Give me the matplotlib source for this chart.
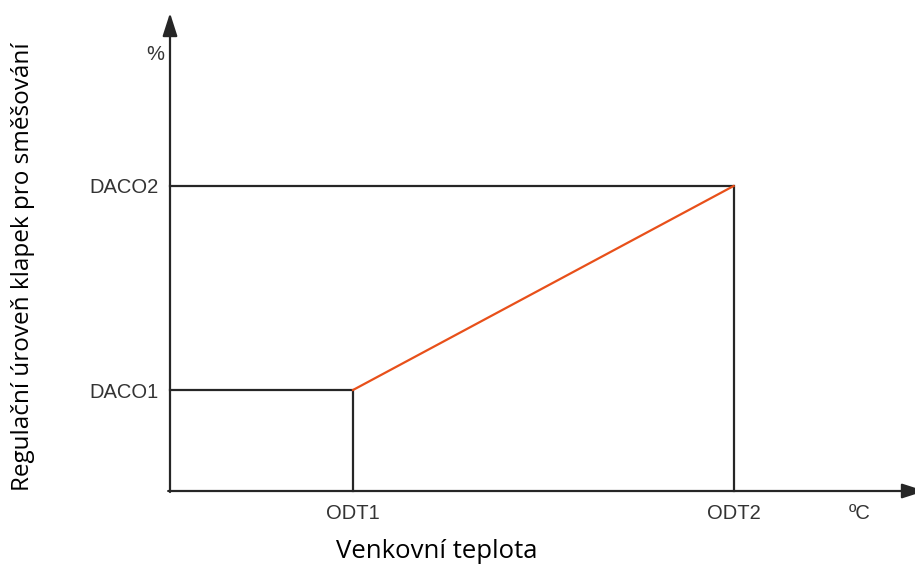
import matplotlib
matplotlib.use("Agg")
import matplotlib.pyplot as plt
from matplotlib.transforms import offset_copy, blended_transform_factory

# Data (abstract units)
odt_labels = ["ODT1", "ODT2"]
odt_x = [1.0, 3.08]
daco_labels = ["DACO1", "DACO2"]
daco_y = [1.0, 3.02]
x_unit_label = "ºC"
x_unit_pos = 3.77
y_unit_label = "%"
xlabel = "Venkovní teplota"
ylabel = "Regulační úroveň klapek pro směšování"

W, H, DPI = 915, 565, 100
fig = plt.figure(figsize=(W / DPI, H / DPI), dpi=DPI)
x0, y0 = 170, 491          # origin in pixels (from top)
xpx_per = 183.0
ypx_per = 101.0
ax = fig.add_axes([x0 / W, (H - y0) / H, (W - x0) / W, (y0 - 0) / H])
ax.set_xlim(0, (W - x0) / xpx_per)
ax.set_ylim(0, y0 / ypx_per)
for s in ax.spines.values():
    s.set_visible(False)

dark = "#262626"
orange = "#e8501a"
lw = 1.6

# axes with arrows
ytop = (y0 - 13) / ypx_per
xright = (W - x0 + 10) / xpx_per
ax.annotate("", xy=(0, ytop), xytext=(0, -0.01), xycoords="data",
            arrowprops=dict(arrowstyle="-|>,head_length=1.4,head_width=0.45",
                            color=dark, lw=lw, shrinkA=0, shrinkB=0),
            annotation_clip=False)
ax.annotate("", xy=(xright, 0), xytext=(-0.01, 0), xycoords="data",
            arrowprops=dict(arrowstyle="-|>,head_length=1.4,head_width=0.45",
                            color=dark, lw=lw, shrinkA=0, shrinkB=0),
            annotation_clip=False)

# guide lines
ax.plot([0, odt_x[0], odt_x[0]], [daco_y[0], daco_y[0], 0], color=dark, lw=lw,
        solid_joinstyle="miter", clip_on=False)
ax.plot([0, odt_x[1], odt_x[1]], [daco_y[1], daco_y[1], 0], color=dark, lw=lw,
        solid_joinstyle="miter", clip_on=False)
# curve
ax.plot(odt_x, daco_y, color=orange, lw=lw, clip_on=False, zorder=5)

tick_font = dict(family="Liberation Sans", size=14.5, color="#333333")
xpad = 9.5
ax.set_xticks(odt_x)
ax.set_xticklabels(odt_labels, **tick_font)
ax.set_yticks(daco_y)
ax.set_yticklabels(daco_labels, **tick_font)
ax.tick_params(axis="x", length=0, pad=xpad)
ax.tick_params(axis="y", length=0, pad=8.5)

tr = offset_copy(blended_transform_factory(ax.transData, ax.transAxes),
                 fig=fig, x=0, y=-xpad, units="points")
ax.text(x_unit_pos, 0, x_unit_label, transform=tr, ha="center", va="top",
        **tick_font)
ax.text((155 - x0) / xpx_per, (y0 - 55) / ypx_per, y_unit_label,
        ha="center", va="center", **tick_font)

fig.text(437 / W, 1 - 558 / H, xlabel, ha="center", va="baseline",
         family="Open Sans", size=18.5, color="black")
fig.text(23 / W, 1 - 267 / H, ylabel, ha="center", va="center",
         rotation=90, family="Open Sans", size=17.5, color="black")

fig.savefig("out.png", dpi=DPI)
